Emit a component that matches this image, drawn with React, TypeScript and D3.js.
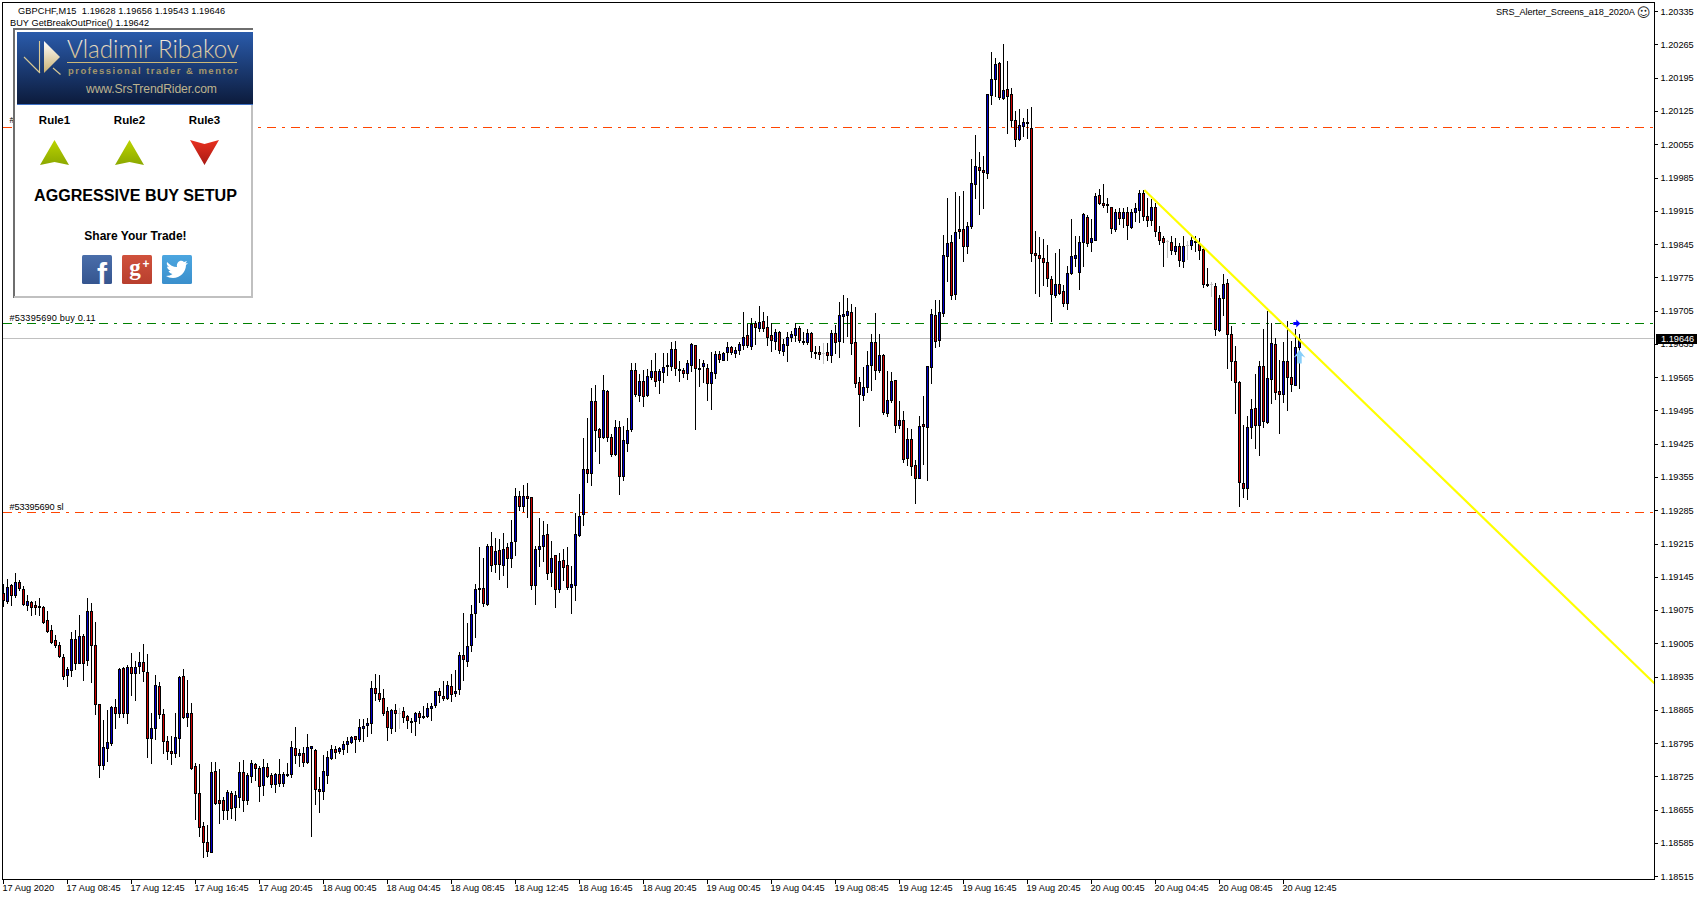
import { useEffect, useRef } from "react";
import * as d3 from "d3";

// GBPCHF M15 candles, in points (price x 100000), oldest first
const highs = [
  119129,119140,119129,119152,119139,119126,119106,119094,119094,119100,
  119084,119072,119043,119022,119007,118982,118956,119028,119033,119064,
  119024,119100,119089,119049,118878,118843,118864,118873,118887,118954,
  118956,118959,118984,118968,118987,119003,118982,118859,118939,118923,
  118866,118810,118810,118859,118937,118952,118927,118879,118753,118751,
  118628,118623,118756,118756,118740,118681,118696,118695,118695,118756,
  118760,118733,118759,118754,118746,118761,118754,118733,118733,118761,
  118735,118754,118800,118829,118782,118786,118814,118789,118782,118723,
  118770,118779,118791,118789,118786,118800,118807,118809,118810,118845,
  118845,118847,118926,118941,118938,118908,118870,118866,118878,118868,
  118870,118855,118847,118861,118862,118874,118879,118880,118904,118912,
  118926,118925,118941,118949,118986,119068,119048,119085,119129,119207,
  119184,119214,119240,119226,119224,119237,119217,119264,119331,119326,
  119338,119342,119312,119209,119268,119263,119256,119220,119191,119196,
  119203,119208,119167,119280,119319,119438,119479,119542,119548,119457,
  119569,119539,119445,119474,119472,119463,119480,119594,119594,119571,
  119580,119583,119602,119615,119583,119615,119615,119638,119642,119599,
  119585,119601,119636,119633,119603,119601,119592,119617,119620,119619,
  119618,119638,119631,119629,119638,119703,119676,119689,119683,119714,
  119703,119693,119680,119666,119662,119645,119660,119662,119678,119673,
  119659,119667,119659,119630,119631,119636,119636,119664,119674,119723,
  119737,119732,119718,119713,119566,119587,119619,119655,119701,119655,
  119613,119578,119575,119558,119514,119493,119459,119455,119390,119483,
  119525,119589,119709,119727,119727,119864,119941,119864,119954,119946,
  119956,119892,120025,120074,120038,120031,120160,120249,120236,120228,
  120265,120231,120174,120124,120130,120111,120129,120134,119872,119859,
  119855,119843,119778,119826,119834,119758,119799,119897,119861,119862,
  119910,119906,119897,119953,119960,119971,119943,119923,119918,119920,
  119920,119923,119918,119932,119959,119958,119941,119939,119932,119883,
  119862,119854,119861,119857,119848,119861,119852,119864,119862,119857,
  119841,119794,119766,119764,119737,119783,119771,119672,119630,119556,
  119465,119484,119520,119571,119598,119667,119705,119678,119648,119602,
  119638,119684,119642,119667,119656,
];
const lows = [
  119084,119089,119086,119103,119117,119085,119075,119065,119067,119064,
  119047,119029,119005,118998,118977,118930,118916,118937,118952,118963,
  118928,118959,118924,118857,118724,118740,118757,118792,118827,118851,
  118850,118838,118897,118886,118943,118926,118766,118754,118803,118848,
  118775,118761,118751,118765,118768,118848,118831,118741,118635,118599,
  118556,118558,118565,118667,118627,118635,118635,118638,118634,118660,
  118653,118667,118714,118718,118674,118685,118723,118702,118692,118705,
  118705,118725,118724,118754,118746,118746,118754,118600,118667,118650,
  118677,118712,118761,118763,118775,118772,118777,118795,118777,118800,
  118800,118810,118817,118886,118884,118854,118802,118817,118821,118827,
  118840,118827,118819,118812,118838,118847,118849,118843,118872,118881,
  118886,118887,118883,118894,118899,118928,118957,118989,119019,119092,
  119084,119086,119157,119155,119140,119148,119124,119165,119190,119286,
  119283,119271,119119,119087,119168,119178,119140,119126,119082,119113,
  119138,119120,119069,119096,119231,119254,119345,119338,119410,119385,
  119436,119431,119399,119401,119319,119349,119410,119452,119526,119515,
  119505,119526,119561,119547,119531,119554,119569,119580,119569,119557,
  119565,119562,119578,119456,119547,119554,119517,119498,119564,119596,
  119601,119601,119613,119608,119613,119624,119629,119625,119634,119662,
  119662,119632,119620,119624,119615,119611,119599,119641,119641,119640,
  119634,119634,119608,119606,119603,119594,119601,119597,119615,119608,
  119638,119652,119613,119545,119462,119517,119534,119538,119561,119576,
  119488,119483,119513,119450,119458,119387,119380,119359,119300,119352,
  119382,119349,119553,119628,119631,119694,119768,119729,119729,119858,
  119810,119826,119878,119943,119908,119921,119984,120140,120157,120150,
  120151,120079,120094,120052,120063,120073,120068,119809,119742,119736,
  119758,119757,119683,119733,119739,119715,119709,119783,119799,119750,
  119798,119840,119831,119853,119929,119922,119913,119869,119873,119887,
  119881,119855,119878,119894,119892,119896,119883,119885,119862,119845,
  119799,119817,119824,119824,119799,119797,119813,119834,119831,119813,
  119755,119756,119736,119653,119662,119695,119585,119560,119489,119294,
  119313,119308,119436,119415,119401,119460,119469,119510,119520,119447,
  119512,119496,119536,119548,119543,
];
const opens = [
  119110,119094,119127,119107,119133,119120,119086,119092,119085,119083,
  119082,119054,119032,119011,119002,118977,118938,118949,119015,118964,
  119021,118970,119074,119002,118878,118749,118785,118796,118872,118859,
  118954,118859,118956,118943,118958,118965,118945,118806,118827,118916,
  118857,118800,118778,118775,118806,118937,118850,118859,118746,118691,
  118621,118586,118566,118737,118676,118676,118655,118691,118661,118682,
  118735,118676,118726,118752,118742,118707,118744,118728,118709,118729,
  118711,118729,118730,118784,118771,118775,118756,118785,118781,118698,
  118695,118728,118763,118782,118778,118782,118793,118798,118809,118803,
  118827,118833,118838,118912,118901,118889,118862,118827,118864,118859,
  118862,118852,118842,118842,118859,118850,118852,118869,118875,118904,
  118895,118890,118915,118901,118909,118981,118968,119002,119068,119122,
  119122,119087,119209,119171,119202,119170,119207,119185,119221,119314,
  119294,119314,119312,119128,119204,119210,119234,119155,119190,119120,
  119181,119169,119124,119128,119232,119278,119371,119364,119514,119455,
  119439,119535,119440,119404,119461,119356,119427,119456,119581,119528,
  119556,119528,119566,119579,119558,119576,119590,119589,119625,119580,
  119581,119574,119591,119632,119583,119589,119585,119552,119574,119613,
  119602,119617,119629,119616,119622,119633,119653,119631,119679,119669,
  119684,119671,119653,119641,119661,119620,119633,119650,119654,119669,
  119642,119639,119657,119618,119617,119615,119617,119612,119657,119641,
  119693,119696,119703,119638,119554,119528,119544,119591,119640,119580,
  119612,119490,119517,119558,119464,119474,119395,119434,119381,119353,
  119466,119460,119587,119695,119643,119700,119820,119850,119740,119876,
  119876,119841,119883,119972,120008,120000,119995,120159,120193,120227,
  120153,120172,120160,120107,120067,120094,120101,120090,119827,119821,
  119815,119808,119772,119738,119760,119747,119721,119784,119816,119787,
  119850,119903,119850,119854,119949,119932,119927,119922,119877,119913,
  119900,119913,119881,119913,119917,119953,119905,119896,119924,119871,
  119857,119852,119850,119831,119840,119810,119843,119843,119850,119845,
  119834,119761,119760,119757,119665,119731,119764,119656,119599,119555,
  119343,119332,119460,119501,119464,119589,119470,119561,119635,119536,
  119529,119599,119566,119549,119628,
];
const closes = [
  119096,119124,119107,119133,119122,119088,119093,119082,119082,119082,
  119049,119031,119008,119002,118979,118937,118952,119015,118963,119021,
  118964,119074,119002,118878,118749,118786,118798,118872,118859,118952,
  118859,118956,118943,118956,118965,118947,118806,118826,118918,118857,
  118800,118779,118775,118807,118934,118850,118858,118742,118690,118619,
  118587,118568,118735,118669,118669,118655,118693,118659,118685,118735,
  118676,118728,118754,118742,118705,118744,118726,118709,118731,118711,
  118729,118728,118786,118771,118775,118756,118786,118789,118699,118695,
  118737,118765,118782,118777,118784,118794,118799,118807,118803,118829,
  118832,118838,118912,118901,118888,118859,118829,118864,118859,118859,
  118850,118843,118840,118859,118850,118853,118868,118874,118904,118896,
  118890,118917,118899,118904,118981,118971,119000,119066,119120,119120,
  119090,119209,119170,119200,119171,119204,119185,119219,119316,119294,
  119314,119311,119128,119204,119209,119232,119153,119185,119120,119179,
  119166,119124,119129,119234,119272,119371,119364,119514,119453,119439,
  119537,119439,119404,119461,119356,119432,119453,119581,119530,119556,
  119526,119568,119579,119556,119579,119587,119589,119625,119585,119583,
  119574,119594,119634,119585,119585,119594,119552,119575,119613,119603,
  119615,119629,119618,119622,119634,119650,119633,119676,119671,119682,
  119669,119650,119643,119661,119622,119634,119650,119655,119669,119643,
  119639,119657,119620,119615,119613,119615,119612,119657,119640,119695,
  119697,119705,119637,119553,119530,119545,119591,119640,119580,119612,
  119492,119516,119556,119464,119474,119393,119434,119378,119353,119463,
  119462,119589,119697,119641,119703,119821,119848,119738,119871,119873,
  119841,119882,119974,120010,120001,119997,120160,120193,120223,120155,
  120170,120157,120107,120067,120096,120101,120099,119827,119822,119815,
  119807,119774,119739,119762,119742,119721,119785,119819,119823,119850,
  119908,119847,119857,119947,119932,119927,119929,119879,119913,119900,
  119913,119885,119913,119920,119953,119904,119896,119924,119873,119854,
  119850,119852,119833,119840,119812,119842,119843,119854,119852,119833,
  119761,119758,119760,119666,119732,119761,119656,119599,119555,119344,
  119332,119461,119498,119464,119589,119473,119564,119636,119534,119529,
  119599,119565,119551,119629,119646,
];

const priceTicks = [
  120335,120265,120195,120125,120055,119985,119915,119845,119775,119705,119635,119565,119495,
  119425,119355,119285,119215,119145,119075,119005,118935,118865,118795,118725,118655,118585,118515,
];
const timeLabels = [
  "17 Aug 2020","17 Aug 08:45","17 Aug 12:45","17 Aug 16:45","17 Aug 20:45","18 Aug 00:45","18 Aug 04:45",
  "18 Aug 08:45","18 Aug 12:45","18 Aug 16:45","18 Aug 20:45","19 Aug 00:45","19 Aug 04:45","19 Aug 08:45",
  "19 Aug 12:45","19 Aug 16:45","19 Aug 20:45","20 Aug 00:45","20 Aug 04:45","20 Aug 08:45","20 Aug 12:45",
];
const barsPerLabel = 16;

// order levels and last price
const buyPrice = 119678;
const slPrice = 119282;
const tpPrice = 120092;
const lastPrice = 119646;
const bidLinePrice = 119648;
const setupRules = [
  { label: "Rule1", up: true },
  { label: "Rule2", up: true },
  { label: "Rule3", up: false },
];
// trend line, from bar 285 to the right edge of the plot
const trendBars = [285.2, 412.7];
const trendPrices = [119960, 118922];

const CHART_FONT = "'Liberation Sans', Arial, sans-serif";
const plot = { left: 2.5, right: 1654.5, top: 2.5, bottom: 879.5 };

const x = d3.scaleLinear().domain([0, 324]).range([3.5, 1299.5]);
const y = d3.scaleLinear().domain([120335, 118515]).range([11.7, 876.7]);
const py = (p: number) => Math.floor(y(p)) + 0.5;

function drawChart(node: SVGSVGElement) {
  const svg = d3.select(node);
  svg.selectAll("*").remove();

  const defs = svg.append("defs");
  const grad = (id: string, c1: string, c2: string) => {
    const g = defs.append("linearGradient").attr("id", id).attr("x1", 0).attr("y1", 0).attr("x2", 0).attr("y2", 1);
    g.append("stop").attr("offset", "0%").attr("stop-color", c1);
    g.append("stop").attr("offset", "100%").attr("stop-color", c2);
  };
  grad("logoBg", "#2a5bab", "#0c1b3c");
  grad("goldText", "#ffffff", "#c9b070");
  grad("arrowGreen", "#bcd400", "#8ba800");
  grad("arrowRed", "#e8301f", "#a81a14");
  grad("fbBg", "#4a6eaa", "#35558f");
  grad("gpBg", "#d0513c", "#b83f2e");
  grad("twBg", "#4ca6e0", "#3a8fcc");

  svg.append("rect").attr("width", 1700).attr("height", 900).attr("fill", "#fff");

  // horizontal levels sit behind the candles
  const levels = svg.append("g").attr("shape-rendering", "crispEdges");
  const level = (p: number, color: string, dash?: string) =>
    levels.append("line").attr("x1", plot.left).attr("x2", plot.right).attr("y1", py(p)).attr("y2", py(p))
      .attr("stroke", color).attr("stroke-dasharray", dash ?? null);
  level(tpPrice, "#ff4500", "9 6 3 6");
  level(buyPrice, "#008000", "9 6 3 6");
  level(slPrice, "#ff4500", "9 6 3 6");
  level(bidLinePrice, "#c0c0c0");

  // candles
  const candles = d3.range(highs.length).map(i => ({
    i, open: opens[i], high: highs[i], low: lows[i], close: closes[i],
  }));
  const bars = svg.append("g").attr("shape-rendering", "crispEdges");
  bars.selectAll("line.wick").data(candles).join("line").attr("class", "wick")
    .attr("x1", d => x(d.i)).attr("x2", d => x(d.i))
    .attr("y1", d => py(d.high) - 0.5).attr("y2", d => py(d.low) + 0.5)
    .attr("stroke", d => (d.open === d.close ? "#c0c0c0" : "#000"));
  bars.selectAll("line.doji").data(candles.filter(d => d.open === d.close)).join("line").attr("class", "doji")
    .attr("x1", d => x(d.i) - 1.5).attr("x2", d => x(d.i) + 1.5)
    .attr("y1", d => py(d.open)).attr("y2", d => py(d.open))
    .attr("stroke", "#c0c0c0");
  bars.selectAll("rect").data(candles.filter(d => d.open !== d.close)).join("rect")
    .attr("x", d => x(d.i) - 1).attr("width", 2)
    .attr("y", d => py(Math.max(d.open, d.close)))
    .attr("height", d => Math.max(1, py(Math.min(d.open, d.close)) - py(Math.max(d.open, d.close))))
    .attr("fill", d => (d.close > d.open ? "#0000cd" : "#cd0000"))
    .attr("stroke", "#000");

  // trend line
  svg.append("line")
    .attr("x1", x(trendBars[0])).attr("y1", y(trendPrices[0]))
    .attr("x2", x(trendBars[1])).attr("y2", y(trendPrices[1]))
    .attr("stroke", "#ffff00").attr("stroke-width", 2.2);

  // trade arrows on the last bar
  svg.append("path")
    .attr("transform", `translate(${x(323.2)},${py(buyPrice)})`)
    .attr("d", "M-3,-1.5H0V-4L4,0L0,4V1.5H-3Z").attr("fill", "#0000ff");
  svg.append("path")
    .attr("transform", `translate(${x(324)},${y(119609)})`)
    .attr("d", "M0,-6.7L6,1L2.2,-1V6.7H-2.2V-1L-6,1Z").attr("fill", "#87cefa");

  // frame
  svg.append("rect")
    .attr("x", plot.left).attr("y", plot.top)
    .attr("width", plot.right - plot.left).attr("height", plot.bottom - plot.top)
    .attr("fill", "none").attr("stroke", "#000").attr("shape-rendering", "crispEdges");

  // price axis
  const yAxis = d3.axisRight(y).tickValues(priceTicks).tickSize(3).tickPadding(3).offset(0)
    .tickFormat(d => (Number(d) / 100000).toFixed(5));
  const gy = svg.append("g").attr("transform", `translate(${plot.right},0)`).call(yAxis);
  gy.select(".domain").remove();
  gy.selectAll("text").attr("font-family", CHART_FONT).attr("font-size", 9.2).attr("fill", "#000");
  gy.selectAll("line").attr("stroke", "#000").attr("shape-rendering", "crispEdges");

  // time axis
  const xAxis = d3.axisBottom(x).tickValues(timeLabels.map((_, k) => k * barsPerLabel)).tickSize(4).tickPadding(1).offset(0)
    .tickFormat((_, k) => timeLabels[k]);
  const gx = svg.append("g").attr("transform", `translate(0,${plot.bottom})`).call(xAxis);
  gx.select(".domain").remove();
  gx.selectAll("text").attr("font-family", CHART_FONT).attr("font-size", 9.2).attr("fill", "#000")
    .attr("text-anchor", "start").attr("dx", -1);
  gx.selectAll("line").attr("stroke", "#000").attr("shape-rendering", "crispEdges");

  // last price tag
  svg.append("rect").attr("x", 1656).attr("y", py(bidLinePrice) - 4.5).attr("width", 41).attr("height", 10).attr("fill", "#000");
  svg.append("text").attr("x", 1661).attr("y", py(bidLinePrice) + 3.7).attr("font-family", CHART_FONT).attr("font-size", 9.2)
    .attr("fill", "#fff").text((lastPrice / 100000).toFixed(5));

  const label = (tx: number, ty: number, s: string, width?: number, anchor = "start") =>
    svg.append("text").attr("x", tx).attr("y", ty).attr("text-anchor", anchor)
      .attr("font-family", CHART_FONT).attr("font-size", 9.2).attr("fill", "#000")
      .attr("textLength", width ?? null).text(s);
  label(18, 13.5, "GBPCHF,M15  1.19628 1.19656 1.19543 1.19646", 207).style("white-space", "pre");
  label(10, 26, "BUY GetBreakOutPrice() 1.19642", 139);
  // the tp label runs under the panel, only its first character shows
  label(9.5, py(tpPrice) - 5, "#");
  label(9.5, py(buyPrice) - 3, "#53395690 buy 0.11", 86);
  label(9.5, py(slPrice) - 3, "#53395690 sl", 54);
  label(1496, 14.5, "SRS_Alerter_Screens_a18_2020A", 139);
  svg.append("text").attr("x", 1643.5).attr("y", 17).attr("text-anchor", "middle")
    .attr("font-family", "'DejaVu Sans'").attr("font-size", 13).attr("fill", "#222").text("\u263A");

  drawPanel(svg);
}

function drawPanel(svg: d3.Selection<SVGSVGElement, unknown, null, undefined>) {
  const p = svg.append("g");
  p.append("rect").attr("x", 14).attr("y", 29).attr("width", 238).attr("height", 268).attr("fill", "#fff");
  const edge = (x1: number, y1: number, x2: number, y2: number, c: string) =>
    p.append("line").attr("x1", x1).attr("y1", y1).attr("x2", x2).attr("y2", y2)
      .attr("stroke", c).attr("stroke-width", 2).attr("shape-rendering", "crispEdges");
  edge(14, 29, 253, 29, "#6e6e6e");
  edge(14, 28, 14, 298, "#6e6e6e");
  edge(252, 104, 252, 298, "#c0c0c0");
  edge(14, 297, 253, 297, "#c0c0c0");

  // logo banner
  p.append("rect").attr("x", 17).attr("y", 32).attr("width", 236).attr("height", 72).attr("fill", "url(#logoBg)");
  p.append("rect").attr("x", 17).attr("y", 104).attr("width", 236).attr("height", 1).attr("fill", "#3d70c4");
  p.append("path").attr("d", "M24,57L40,73M39.5,41V73M53,68L60.5,74.5").attr("stroke", "#d8c994").attr("stroke-width", 1.1).attr("fill", "none");
  p.append("path").attr("d", "M44,41L60,57L44,73Z").attr("fill", "url(#goldText)");
  p.append("text").attr("x", 67).attr("y", 58).attr("font-family", "Lato, 'Liberation Sans'").attr("font-weight", 300)
    .attr("font-size", 25).attr("fill", "url(#goldText)").attr("textLength", 172).attr("lengthAdjust", "spacingAndGlyphs").text("Vladimir Ribakov");
  p.append("rect").attr("x", 67).attr("y", 62).attr("width", 170).attr("height", 1).attr("fill", "#cdb878");
  p.append("text").attr("x", 68).attr("y", 73.5).attr("font-family", CHART_FONT).attr("font-weight", 700).attr("font-size", 9.5)
    .attr("fill", "#a4976a").attr("textLength", 170).text("professional trader & mentor");
  p.append("text").attr("x", 86).attr("y", 93).attr("font-family", CHART_FONT).attr("font-size", 12.2)
    .attr("fill", "#bdb38e").attr("textLength", 131).text("www.SrsTrendRider.com");

  // rules
  const ruleScale = d3.scalePoint<string>().domain(setupRules.map(r => r.label)).range([54.5, 204.5]);
  setupRules.forEach(r => {
    const cx = ruleScale(r.label) as number;
    p.append("text").attr("x", cx).attr("y", 124).attr("text-anchor", "middle").attr("font-family", CHART_FONT)
      .attr("font-weight", 700).attr("font-size", 11.5).attr("fill", "#000").text(r.label);
    p.append("path")
      .attr("d", r.up
        ? `M${cx},140L${cx + 14.5},165L${cx},162L${cx - 14.5},165Z`
        : `M${cx - 14.5},140L${cx},144L${cx + 14.5},140L${cx},165Z`)
      .attr("fill", r.up ? "url(#arrowGreen)" : "url(#arrowRed)");
  });

  p.append("text").attr("x", 135.5).attr("y", 201).attr("text-anchor", "middle").attr("font-family", CHART_FONT)
    .attr("font-weight", 700).attr("font-size", 16).attr("fill", "#000").attr("textLength", 203).attr("lengthAdjust", "spacingAndGlyphs")
    .text("AGGRESSIVE BUY SETUP");
  p.append("text").attr("x", 135.5).attr("y", 239.5).attr("text-anchor", "middle").attr("font-family", CHART_FONT)
    .attr("font-weight", 700).attr("font-size", 12).attr("fill", "#000").text("Share Your Trade!");

  // share buttons
  const btn = (bx: number, fill: string) =>
    p.append("rect").attr("x", bx).attr("y", 255).attr("width", 30).attr("height", 29).attr("rx", 1.5).attr("fill", fill);
  btn(82, "url(#fbBg)");
  btn(122, "url(#gpBg)");
  btn(162, "url(#twBg)");
  p.append("text").attr("x", 102).attr("y", 284).attr("text-anchor", "middle").attr("font-family", "'Liberation Sans'")
    .attr("font-weight", 700).attr("font-size", 30).attr("fill", "#fff").text("f");
  p.append("text").attr("x", 135).attr("y", 275).attr("text-anchor", "middle").attr("font-family", "'Liberation Serif'")
    .attr("font-weight", 700).attr("font-size", 23).attr("fill", "#fff").text("g");
  p.append("text").attr("x", 146).attr("y", 268).attr("text-anchor", "middle").attr("font-family", "'Liberation Sans'")
    .attr("font-weight", 700).attr("font-size", 12).attr("fill", "#fff").text("+");
  p.append("path")
    .attr("d", "M167,262C170,265 173,267 177,267C176,262 181,259 184,262L187,261L185.5,263.5L188,263L186,265C186,272 180,278 173,278C170,278 168,277 166,276C169,276 171,275 172.5,274C170,273.5 169,272 168.5,271L170.5,271C168.5,270 167,268 167,266.5L169,267C167,265.5 166.5,264 167,262Z")
    .attr("fill", "#fff");
}

export default function App() {
  const ref = useRef<SVGSVGElement>(null);

  useEffect(() => {
    if (ref.current) drawChart(ref.current);
  }, []);

  return <svg ref={ref} width={1700} height={900} style={{ position: "fixed", left: 0, top: 0 }} />;
}
